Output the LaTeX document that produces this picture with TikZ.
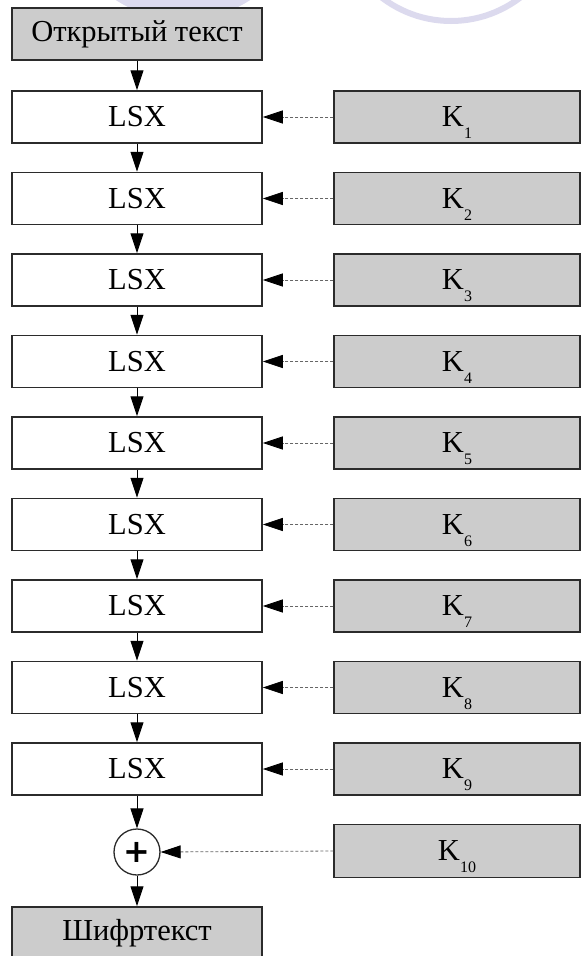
\documentclass[tikz,border=0pt]{standalone}
\usepackage{fontspec}
\setmainfont{Liberation Serif}
\newfontfamily\plusfont{DejaVu Sans}
\usetikzlibrary{arrows.meta}

\definecolor{boxgray}{HTML}{CCCCCC}
\definecolor{framegray}{HTML}{2B2B2B}
\definecolor{marklav}{HTML}{DCDAEE}

\tikzset{
  roundbox/.style={draw=framegray, line width=1.5pt, fill=white,
    minimum width=250pt, minimum height=52pt, inner sep=0pt,
    font=\fontsize{30.5}{30.5}\selectfont},
  databox/.style={roundbox, fill=boxgray},
  keybox/.style={draw=framegray, line width=1.5pt, fill=boxgray,
    minimum width=246pt, minimum height=52pt, inner sep=0pt,
    font=\fontsize{30.5}{30.5}\selectfont},
  xorcircle/.style={circle, draw=framegray, line width=1.3pt, fill=white,
    minimum size=46pt, inner sep=0pt},
  flow/.style={draw=black, line width=1pt,
    -{Triangle[length=20pt,width=13pt]}},
  keyflow/.style={draw=black!60, line width=0.8pt, dash pattern=on 3pt off 2pt,
    -{Triangle[length=20pt,width=13pt,color=black]}}
}

\newcommand{\keylabel}[1]{K\smash{\raisebox{-12pt}{\fontsize{16}{16}\selectfont #1}}}

\begin{document}
\begin{tikzpicture}[x=1pt, y=-1pt]
  \useasboundingbox (0,0) rectangle (581,956);
  \clip (0,0) rectangle (581,956);

  % faint emblem in the page header
  \fill[marklav] (183,-103) circle[radius=123];
  \draw[marklav, line width=6pt] (451,-93) circle[radius=114];

  % plaintext input
  \node[databox] (in) at (137,34) {Открытый текст};

  % nine LSX rounds with their round keys
  \foreach \i in {1,...,9} {
    \pgfmathsetmacro{\yy}{117 + 81.5*(\i-1)}
    \node[roundbox] (l\i) at (137,\yy) {LSX};
    \node[keybox] (k\i) at (457,\yy) {\keylabel{\i}};
  }

  % final key addition
  \node[xorcircle] (xor) at (137,852) {\plusfont\bfseries\fontsize{32}{32}\selectfont +};
  \node[keybox, minimum height=53pt] (k10) at (457,851) {\keylabel{10}};

  % ciphertext output
  \node[databox] (out) at (137,933) {Шифртекст};

  % data path
  \draw[flow] (in) -- (l1);
  \foreach \i [evaluate=\i as \j using int(\i+1)] in {1,...,8} {
    \draw[flow] (l\i) -- (l\j);
  }
  \draw[flow] (l9) -- (xor);
  \draw[flow] (xor) -- (out);

  % key schedule feeds
  \foreach \i in {1,...,9} {
    \draw[keyflow] (k\i.west) -- (l\i.east);
  }
  \draw[keyflow] (k10.west) -- (xor.east);
\end{tikzpicture}
\end{document}
